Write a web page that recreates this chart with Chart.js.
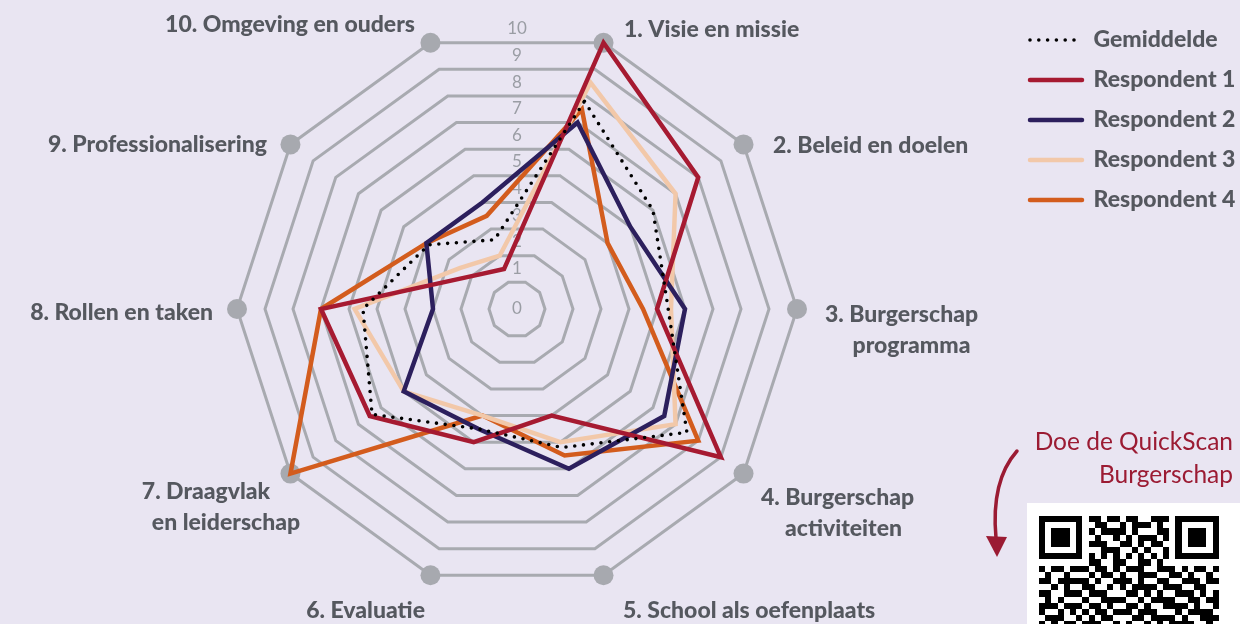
<!DOCTYPE html>
<html>
<head>
<meta charset="utf-8">
<script src="https://cdn.jsdelivr.net/npm/chart.js@4.4.0/dist/chart.umd.min.js"></script>
<style>
  html, body { margin: 0; padding: 0; background: #e9e5f2; }
  #wrap { position: relative; width: 1240px; height: 624px; overflow: hidden; background: #e9e5f2; }
  #c { position: absolute; left: 0; top: 0; }
  #cta { position: absolute; right: 7px; top: 424px; text-align: right; color: #9b1b33;
         font: 400 24.5px Lato, sans-serif; line-height: 33px; white-space: nowrap; }
  #arrow { position: absolute; left: 980px; top: 440px; }
  #qrbox { position: absolute; left: 1027px; top: 503px; width: 213px; height: 121px; background: #ffffff; }
  #qr { position: absolute; left: 12px; top: 13px; }
</style>
</head>
<body>
<div id="wrap">
  <canvas id="c" width="1240" height="624"></canvas>
  <div id="cta">Doe de QuickScan<br>Burgerschap</div>
  <svg id="arrow" width="50" height="125" viewBox="0 0 50 125">
    <path d="M37 11 C 22 28, 12 55, 16 98" fill="none" stroke="#9b1b33" stroke-width="3.5" stroke-linecap="round"/>
    <polygon points="6,96 27,97 17,117" fill="#9b1b33"/>
  </svg>
  <div id="qrbox"><canvas id="qr" width="180" height="112"></canvas></div>
</div>
<script>
// ---------- data ----------
const categories = [
  ['1. Visie en missie'],
  ['2. Beleid en doelen'],
  ['3. Burgerschap', 'programma'],
  ['4. Burgerschap', 'activiteiten'],
  ['5. School als oefenplaats'],
  ['6. Evaluatie'],
  ['7. Draagvlak', 'en leiderschap'],
  ['8. Rollen en taken'],
  ['9. Professionalisering'],
  ['10. Omgeving en ouders']
];
const gemiddelde  = [7.8, 6, 5.4, 7.5, 5.2, 4.5, 6.4, 5.5, 3.9, 2.6];
const respondent1 = [10, 8, 5, 9, 4, 5, 6.5, 7, 2, 1.5];
const respondent2 = [7, 5, 6, 6.5, 6, 4.5, 5, 3, 4, 4];
const respondent3 = [8.5, 7, 5.5, 7, 5, 4, 5, 5.8, 2.5, 2];
const respondent4 = [7.5, 4, 4.5, 8, 5.5, 4, 10, 7, 4, 3.5];
const axisEnds    = [10, 10, 10, 10, 10, 10, 10, 10, 10, 10];
const tickLabels  = ['0', '1', '2', '3', '4', '5', '6', '7', '8', '9', '10'];
const seriesNames = ['Gemiddelde', 'Respondent 1', 'Respondent 2', 'Respondent 3', 'Respondent 4'];

// ---------- styling / layout ----------
const FONT = 'Lato, "Open Sans", sans-serif';
const LABEL_COLOR = '#55585f';
const GRID = '#a8aab0';
const labelLayout = [
  {dx: [20.5], dy: -12.7, align: 'left'},
  {dx: [29.5], dy: 1.6, align: 'left'},
  {dx: [104.5, 114.5], dy: 6, align: 'center'},
  {dx: [94, 100], dy: 24.4, align: 'center'},
  {dx: [19.5], dy: 35.7, align: 'left'},
  {dx: [-5.5], dy: 35.7, align: 'right'},
  {dx: [-84.5, -64.5], dy: 18.4, align: 'center'},
  {dx: [-24], dy: 4, align: 'right'},
  {dx: [-23.5], dy: 0.6, align: 'right'},
  {dx: [-15.5], dy: -17.7, align: 'right'}
];

const tickPlugin = {
  id: 'tickText',
  beforeDatasetsDraw(chart) {
    const s = chart.scales.r, ctx = chart.ctx;
    ctx.save();
    ctx.font = '400 17px ' + FONT;
    ctx.fillStyle = '#9a9da4';
    ctx.textAlign = 'center';
    ctx.textBaseline = 'middle';
    tickLabels.forEach(t => {
      const v = Number(t);
      const pos = v === 0 ? 0 : 0.5 + 0.95 * v;
      const d = s.getDistanceFromCenterForValue(pos);
      ctx.fillText(t, s.xCenter, s.yCenter - d);
    });
    ctx.restore();
  }
};

const pointLabelPlugin = {
  id: 'axisText',
  afterDraw(chart) {
    const s = chart.scales.r, ctx = chart.ctx;
    ctx.save();
    ctx.font = '900 23px ' + FONT;
    ctx.fillStyle = LABEL_COLOR;
    ctx.textBaseline = 'middle';
    categories.forEach((lines, i) => {
      const p = s.getPointPosition(i, s.drawingArea);
      const L = labelLayout[i];
      ctx.textAlign = L.align;
      lines.forEach((t, j) => ctx.fillText(t, p.x + L.dx[Math.min(j, L.dx.length - 1)], p.y + L.dy + j * 31));
    });
    ctx.restore();
  }
};

function lineSet(label, data, color, extra) {
  return Object.assign({
    label, data,
    borderColor: color, backgroundColor: color,
    borderWidth: 4.5, fill: false, pointRadius: 0, pointHoverRadius: 0,
    pointStyle: 'line', borderCapStyle: 'round', borderJoinStyle: 'miter'
  }, extra || {});
}

const chart = new Chart(document.getElementById('c'), {
  type: 'radar',
  data: {
    labels: categories,
    datasets: [
      lineSet(seriesNames[0], gemiddelde, '#000000', {borderWidth: 3.6, borderDash: [0, 8.8]}),
      lineSet(seriesNames[1], respondent1, '#a61a31'),
      lineSet(seriesNames[2], respondent2, '#2c1f5d'),
      lineSet(seriesNames[3], respondent3, '#f2c8a9'),
      lineSet(seriesNames[4], respondent4, '#d35c1d'),
      {
        label: 'axis', data: axisEnds, showLine: false, fill: false, borderWidth: 0,
        pointRadius: 10, pointHoverRadius: 10, pointBorderWidth: 0,
        pointBackgroundColor: '#a7a9af', backgroundColor: 'rgba(0,0,0,0)', borderColor: 'rgba(0,0,0,0)'
      }
    ]
  },
  options: {
    responsive: false,
    animation: false,
    events: [],
    layout: {padding: {left: 21, right: 8, top: 29, bottom: 35}},
    scales: {
      r: {
        min: 0, max: 10, startAngle: 18,
        ticks: {display: false, stepSize: 1},
        grid: {color: GRID, lineWidth: 3, circular: false},
        angleLines: {display: false},
        pointLabels: {display: false}
      }
    },
    plugins: {
      tooltip: {enabled: false},
      legend: {
        position: 'right',
        align: 'start',
        title: {display: true, text: '', font: {size: 10}, padding: {top: -29.5, bottom: 0}},
        labels: {
          usePointStyle: true,
          pointStyleWidth: 52,
          padding: 17,
          color: LABEL_COLOR,
          font: {family: FONT, size: 23, weight: '900'},
          generateLabels(ch) {
            const items = Chart.defaults.plugins.legend.labels.generateLabels(ch);
            return items.filter(it => it.datasetIndex < 5).map(it => {
              const ds = ch.data.datasets[it.datasetIndex];
              return Object.assign(it, {
                pointStyle: 'line',
                strokeStyle: ds.borderColor,
                fillStyle: ds.borderColor,
                lineWidth: ds.borderWidth,
                lineDash: ds.borderDash || [],
                lineCap: 'round'
              });
            });
          }
        }
      }
    }
  },
  plugins: [tickPlugin, pointLabelPlugin]
});

// place the legend so its first line starts at x = 1032 and keep the radar centred at x = 517
const lw = chart.legend.width;
chart.options.layout.padding.right = 1240 - 1013 - lw;
chart.options.layout.padding.left = 2 * 517 - 1013;
chart.update('none');

// ---------- QR code decoration ----------
const qrRows = [
  '11111110110110110011101111111',
  '10000010011001011101001000001',
  '10111010101111010001101011101',
  '10111010010010101110101011101',
  '10111010111001101011001011101',
  '10000010001110010100101000001',
  '11111110101010101010101111111',
  '00000000110011001101000000000',
  '10110111011010111001110101101',
  '01001000101101001110011010010',
  '11011111010011101001100111011',
  '00101001100101011110111001100',
  '11001110111000110101001110101',
  '01010001001111001011110011011',
  '11101110110100110100111101001',
  '10010101011011101110001011110',
  '01110010101100011011110100111',
  '10101101110010100101011110010'
];
const q = document.getElementById('qr').getContext('2d');
q.fillStyle = '#000';
const m = 6.2;
qrRows.forEach((row, i) => {
  for (let j = 0; j < row.length; j++) {
    if (row[j] === '1') {
      const x0 = Math.round(j * m), y0 = Math.round(i * m);
      q.fillRect(x0, y0, Math.round((j + 1) * m) - x0, Math.round((i + 1) * m) - y0);
    }
  }
});
</script>
</body>
</html>
